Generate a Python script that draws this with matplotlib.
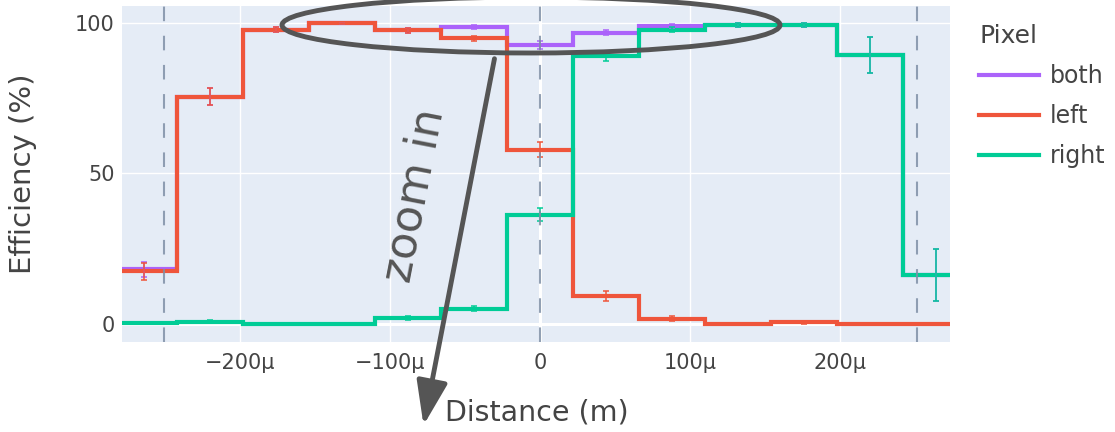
import numpy as np
import matplotlib
matplotlib.use("Agg")
import matplotlib.pyplot as plt
from matplotlib.patches import Ellipse, FancyArrowPatch
from matplotlib.lines import Line2D
from matplotlib.ticker import FuncFormatter

# ---- data (bin centres in micrometres, efficiencies in %) ----
centers_um = [-264, -220, -176, -132, -88, -44, 0, 44, 88, 132, 176, 220, 264]
both_eff = [18.2, 75.5, 97.7, 99.7, 97.5, 98.6, 92.6, 96.6, 98.9, 99.2, 99.2, 89.3, 16.3]
both_err = [2.6, 2.9, 0.8, 0.3, 0.8, 0.6, 1.3, 0.8, 0.6, 0.5, 0.5, 5.9, 8.7]
left_eff = [17.5, 75.5, 97.7, 99.7, 97.5, 94.8, 57.9, 9.4, 1.9, 0.0, 0.6, 0.0, 0.0]
left_err = [2.7, 2.9, 0.8, 0.3, 0.8, 0.8, 2.5, 1.6, 0.7, 0.2, 0.5, 0.0, 0.0]
right_eff = [0.3, 0.8, 0.0, 0.0, 2.2, 5.2, 36.3, 89.0, 97.7, 99.2, 99.2, 89.3, 16.3]
right_err = [0.3, 0.5, 0.0, 0.0, 0.7, 0.9, 2.2, 1.6, 0.8, 0.5, 0.5, 5.9, 8.7]
pixel_edges_um = [-251, 0, 251]
series_names = ["both", "left", "right"]
x_ticks_um = [-200, -100, 0, 100, 200]
y_ticks = [0, 50, 100]

colors = {"both": "#AB63FA", "left": "#EF553B", "right": "#00CC96"}
FONT = "DejaVu Sans"
TXT = "#444444"
plt.rcParams["font.family"] = [FONT]

W, H = 1115, 432
fig = plt.figure(figsize=(W / 100, H / 100), dpi=100)
L, R, T, B = 121.7, 950, 6, 342.3
ax = fig.add_axes([L / W, 1 - B / H, (R - L) / W, (B - T) / H])
ax.set_facecolor("#E5ECF6")

c = np.array(centers_um) * 1e-6
w = c[1] - c[0]
edges = np.concatenate([c - w / 2, [c[-1] + w / 2]])

data = {"both": (both_eff, both_err), "left": (left_eff, left_err), "right": (right_eff, right_err)}
for name in series_names:
    v, e = data[name]
    col = colors[name]
    ax.stairs(v, edges, baseline=None, color=col, lw=3.0, zorder=3)
    ax.errorbar(c, v, yerr=e, fmt="none", ecolor=col, elinewidth=1.1, capsize=2.0,
                capthick=1.1, zorder=4)

for xp in pixel_edges_um:
    ax.axvline(xp * 1e-6, color="#7f8fa6", lw=1.5, ls=(0, (7, 7)), zorder=5, alpha=0.85)

ax.set_xlim(-278.9e-6, 273.3e-6)
ax.set_ylim(-5.97, 105.5)
ax.set_xticks(np.array(x_ticks_um) * 1e-6)
ax.set_yticks(y_ticks)
ax.xaxis.set_major_formatter(FuncFormatter(
    lambda v, p: "0" if abs(v) < 1e-9 else f"{v * 1e6:.0f}μ".replace("-", "\u2212")))
ax.grid(True, color="white", lw=1.0, zorder=0)
ax.set_axisbelow(True)
ax.axhline(0, color="white", lw=2.2, zorder=1)
ax.axvline(0, color="white", lw=2.2, zorder=1)
for s in ax.spines.values():
    s.set_visible(False)
ax.tick_params(length=0, labelsize=15, labelcolor=TXT, pad=5)
ax.tick_params(axis="x", pad=8)

ax.set_xlabel("Distance (m)", fontsize=20.5, color=TXT)
ax.set_ylabel("Efficiency (%)", fontsize=21, color=TXT)
ax.xaxis.set_label_coords((537 - L) / (R - L), (B - 399) / (B - T))
ax.yaxis.set_label_coords((37 - L) / (R - L), 0.5)

handles = [Line2D([], [], color=colors[n], lw=3.0) for n in series_names]
leg = fig.legend(handles, series_names, title="Pixel", loc="upper left",
                 bbox_to_anchor=(958 / W, 1 - 3 / H), frameon=False, fontsize=17,
                 title_fontsize=18, handlelength=2.55, labelspacing=0.68,
                 handletextpad=0.45, alignment="left")
for t in leg.get_texts():
    t.set_color(TXT)
leg.get_title().set_color(TXT)

# annotation: ellipse, arrow and text
def fx(px):
    return px / W

def fy(py):
    return 1 - py / H

ell = Ellipse((fx(531), fy(25)), 498 / W, 56 / H, transform=fig.transFigure,
              fill=False, ec="#555555", lw=3.5, zorder=10)
fig.add_artist(ell)
arr = FancyArrowPatch((fx(495), fy(56)), (fx(423), fy(428)), transform=fig.transFigure,
                      arrowstyle="-|>,head_length=27,head_width=9.5", mutation_scale=1,
                      color="#555555", lw=3.5, zorder=10)
fig.add_artist(arr)
fig.text(fx(414), fy(195), "zoom in", rotation=79, rotation_mode="anchor",
         ha="center", va="center", fontsize=32, color="#555555", zorder=11)

fig.savefig("out.png", dpi=100)
